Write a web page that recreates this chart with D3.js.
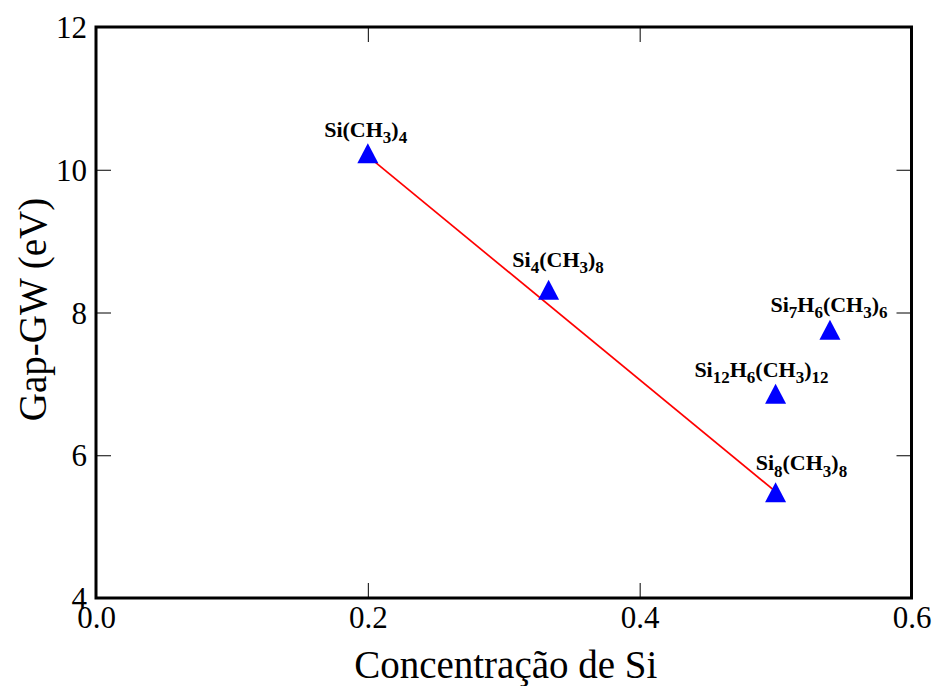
<!DOCTYPE html>
<html>
<head>
<meta charset="utf-8">
<script src="https://cdn.jsdelivr.net/npm/d3@7/dist/d3.min.js"></script>
<style>
  html, body { margin: 0; padding: 0; background: #fff; }
  svg { display: block; }
  text { font-family: "Liberation Serif", "Times New Roman", "DejaVu Serif", serif; }
</style>
</head>
<body>
<svg id="chart" width="933" height="686"></svg>
<script>
// ---- data ----
const compounds = ["Si(CH_3)_4", "Si_4(CH_3)_8", "Si_7H_6(CH_3)_6", "Si_{12}H_6(CH_3)_{12}", "Si_8(CH_3)_8"];
const siConcentration = [0.2, 0.333, 0.54, 0.5, 0.5];
const gapGW = [10.23, 8.32, 7.76, 6.86, 5.48];
// label anchor (centre x, baseline y) in data units
const labelX = [0.1984, 0.340, 0.5393, 0.4896, 0.519];
const labelY = [10.46, 8.64, 8.01, 7.10, 5.79];
// red trend line
const fitX = [0.2, 0.502];
const fitY = [10.19, 5.46];
const xTicks = [0.0, 0.2, 0.4, 0.6];
const yTicks = [4, 6, 8, 10, 12];

// ---- layout ----
const W = 933, H = 686;
const margin = { left: 96, top: 27, right: 21.5, bottom: 88 };
const iw = W - margin.left - margin.right;
const ih = H - margin.top - margin.bottom;

const svg = d3.select("#chart");
const g = svg.append("g").attr("transform", `translate(${margin.left},${margin.top})`);

const x = d3.scaleLinear().domain([0, 0.6]).range([0, iw]);
const y = d3.scaleLinear().domain([4, 12]).range([ih, 0]);

const tickLen = 15;
const tickFont = 31;

// bottom axis
const xb = g.append("g").attr("transform", `translate(0,${ih})`)
  .call(d3.axisBottom(x).tickValues(xTicks).tickFormat(d3.format(".1f")).tickSize(-tickLen).tickPadding(0));
xb.select(".domain").remove();
xb.selectAll("line").attr("stroke", "#000").attr("stroke-width", 1);
xb.selectAll("text").attr("y", 30).attr("dy", 0).attr("font-size", tickFont).attr("fill", "#000")
  .style("font-family", '"Liberation Serif", "Times New Roman", serif');

// top axis (ticks only)
const xt = g.append("g")
  .call(d3.axisTop(x).tickValues(xTicks).tickFormat("").tickSize(-tickLen));
xt.select(".domain").remove();
xt.selectAll("line").attr("stroke", "#000").attr("stroke-width", 1);

// left axis
const yl = g.append("g")
  .call(d3.axisLeft(y).tickValues(yTicks).tickFormat(d3.format("d")).tickSize(-tickLen).tickPadding(0));
yl.select(".domain").remove();
yl.selectAll("line").attr("stroke", "#000").attr("stroke-width", 1);
yl.selectAll("text").attr("x", -9).attr("dy", "0.34em").attr("font-size", tickFont).attr("fill", "#000")
  .style("font-family", '"Liberation Serif", "Times New Roman", serif');

// right axis (ticks only)
const yr = g.append("g").attr("transform", `translate(${iw},0)`)
  .call(d3.axisRight(y).tickValues(yTicks).tickFormat("").tickSize(-tickLen));
yr.select(".domain").remove();
yr.selectAll("line").attr("stroke", "#000").attr("stroke-width", 1);

// frame
g.append("rect").attr("x", 0).attr("y", 0).attr("width", iw).attr("height", ih)
  .attr("fill", "none").attr("stroke", "#000").attr("stroke-width", 3);

// trend line
const fitPts = fitX.map((v, i) => [v, fitY[i]]);
g.append("path")
  .attr("d", d3.line().x(d => x(d[0])).y(d => y(d[1]))(fitPts))
  .attr("fill", "none").attr("stroke", "#ff0000").attr("stroke-width", 1.7);

// triangle markers (bbox centred)
const triangle = {
  draw(ctx, size) {
    const h = Math.sqrt(size);       // height
    const w = h * 1.05;
    ctx.moveTo(0, -h / 2);
    ctx.lineTo(w / 2, h / 2);
    ctx.lineTo(-w / 2, h / 2);
    ctx.closePath();
  }
};
const pts = compounds.map((c, i) => ({ name: c, x: siConcentration[i], y: gapGW[i], lx: labelX[i], ly: labelY[i] }));
g.selectAll("path.pt").data(pts).enter().append("path")
  .attr("class", "pt")
  .attr("transform", d => `translate(${x(d.x)},${y(d.y)})`)
  .attr("d", d3.symbol().type(triangle).size(400)())
  .attr("fill", "#0000ff");

// labels with subscripts
function parseFormula(s) {
  const parts = [];
  const re = /_\{([^}]*)\}|_(\d)|([^_]+)/g;
  let m;
  while ((m = re.exec(s)) !== null) {
    if (m[1] !== undefined) parts.push({ t: m[1], sub: true });
    else if (m[2] !== undefined) parts.push({ t: m[2], sub: true });
    else parts.push({ t: m[3], sub: false });
  }
  return parts;
}
const subShift = 6.5;
pts.forEach(d => {
  const t = g.append("text")
    .attr("x", x(d.lx)).attr("y", y(d.ly))
    .attr("text-anchor", "middle")
    .attr("font-weight", "bold")
    .attr("font-size", 22)
    .attr("fill", "#000");
  let cur = 0;
  parseFormula(d.name).forEach(p => {
    const target = p.sub ? subShift : 0;
    const ts = t.append("tspan").text(p.t).attr("dy", target - cur);
    if (p.sub) ts.attr("font-size", 17);
    cur = target;
  });
});

// axis titles
svg.append("text")
  .attr("x", margin.left + iw / 2 + 2).attr("y", 678)
  .attr("text-anchor", "middle").attr("font-size", 39).attr("fill", "#000")
  .text("Concentração de Si");
svg.append("text")
  .attr("transform", `translate(46,${margin.top + ih / 2 - 3}) rotate(-90)`)
  .attr("text-anchor", "middle").attr("font-size", 39).attr("fill", "#000")
  .text("Gap-GW (eV)");
</script>
</body>
</html>
